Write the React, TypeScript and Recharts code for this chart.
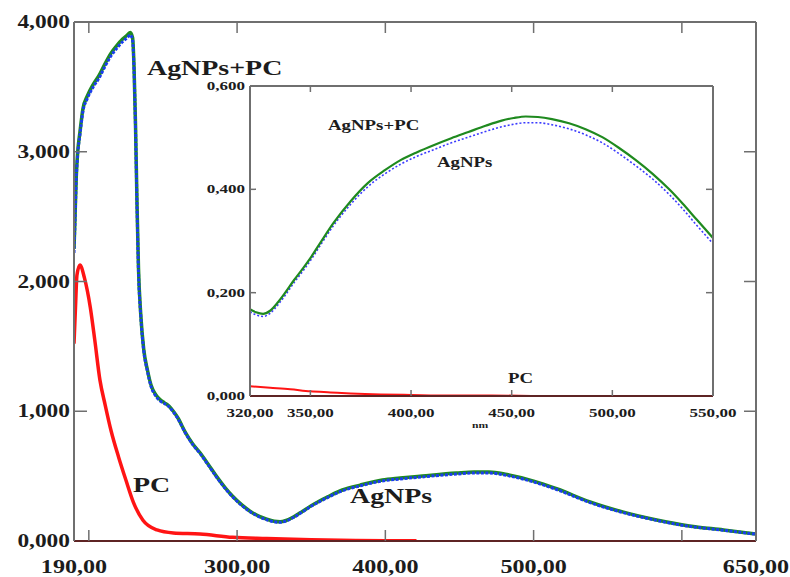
import { LineChart, Line, XAxis, YAxis } from "recharts";

// main panel (absorbance vs wavelength, nm)
const mainWl = [
  190, 190.7, 191.5, 192.5, 194, 196, 199, 203, 207, 211, 215, 219, 223, 226, 228, 229.5, 230.5, 231.5,
  232.5, 233.5, 235, 237, 239.5, 242, 245, 248, 251, 254, 257, 260, 265, 270, 275, 280, 286, 292, 297,
  303, 309, 315, 320, 325, 329, 333, 338, 344, 349, 355, 361, 371, 383, 398, 410, 425, 448, 460, 470,
  482, 500, 516, 538, 560, 583, 605, 628, 650,
];
const agnpsPcMain = [
  2.25, 2.5, 2.8, 3.0, 3.15, 3.33, 3.43, 3.52, 3.59, 3.68, 3.76, 3.82, 3.87, 3.9, 3.92, 3.88, 3.65, 3.2,
  2.6, 2.1, 1.75, 1.48, 1.32, 1.2, 1.13, 1.09, 1.065, 1.04, 1.0, 0.95, 0.84, 0.75, 0.68, 0.6, 0.5, 0.41,
  0.345, 0.28, 0.228, 0.19, 0.168, 0.152, 0.148, 0.158, 0.185, 0.228, 0.265, 0.305, 0.34, 0.393, 0.431,
  0.47, 0.485, 0.501, 0.524, 0.532, 0.532, 0.512, 0.462, 0.401, 0.301, 0.224, 0.162, 0.116, 0.085, 0.054,
];
const agnpsMain = [
  2.22, 2.47, 2.78, 2.98, 3.13, 3.31, 3.41, 3.5, 3.57, 3.66, 3.74, 3.8, 3.85, 3.88, 3.9, 3.86, 3.63, 3.18,
  2.58, 2.08, 1.74, 1.47, 1.31, 1.19, 1.12, 1.08, 1.06, 1.035, 0.995, 0.945, 0.835, 0.745, 0.675, 0.595,
  0.495, 0.405, 0.34, 0.276, 0.224, 0.186, 0.164, 0.148, 0.144, 0.154, 0.181, 0.224, 0.261, 0.3, 0.335,
  0.387, 0.425, 0.463, 0.478, 0.494, 0.516, 0.524, 0.524, 0.505, 0.455, 0.395, 0.296, 0.22, 0.159, 0.113,
  0.083, 0.052,
];
const pcWl = [
  190, 191, 192, 194, 197, 201, 204, 207.5, 211, 215, 220, 225, 230, 236.5, 246, 257, 275, 297, 320, 350,
  380, 400, 421,
];
const pcMain = [
  1.52, 1.8, 2.05, 2.127, 2.03, 1.8, 1.55, 1.24, 1.05, 0.85, 0.65, 0.47, 0.3, 0.16, 0.085, 0.062, 0.054,
  0.028, 0.019, 0.01, 0.004, 0.002, 0.001,
];

// inset (320-550 nm)
const insetWl = [
  320, 323, 326.5, 330, 334, 337.5, 342, 346.5, 350, 355, 361.5, 370, 378.5, 387, 395, 403, 411.5, 420,
  428.5, 437, 445, 451, 457, 463, 470, 478.5, 487, 495, 503, 511.5, 520, 528.5, 535, 542, 550,
];
const agnpsPcInset = [
  0.168, 0.162, 0.159, 0.165, 0.182, 0.2, 0.225, 0.248, 0.267, 0.297, 0.335, 0.377, 0.412, 0.437, 0.457,
  0.472, 0.486, 0.499, 0.511, 0.523, 0.533, 0.538, 0.541, 0.54, 0.536, 0.528, 0.516, 0.501, 0.481, 0.457,
  0.43, 0.399, 0.372, 0.341, 0.306,
];
const agnpsInset = [
  0.163, 0.157, 0.154, 0.16, 0.177, 0.195, 0.22, 0.243, 0.262, 0.292, 0.33, 0.371, 0.405, 0.43, 0.449,
  0.464, 0.477, 0.49, 0.501, 0.512, 0.521, 0.526, 0.529, 0.529, 0.525, 0.517, 0.505, 0.49, 0.47, 0.446,
  0.42, 0.389, 0.362, 0.33, 0.295,
];
const pcInsetWl = [320, 330, 340, 350, 360, 370, 385, 400, 420, 440, 460];
const pcInset = [0.019, 0.016, 0.013, 0.009, 0.007, 0.005, 0.003, 0.002, 0.001, 0.001, 0];

const mainXLabels = [190, 300, 400, 500, 650];
const mainXMarks = [200, 300, 400, 500, 600];
const mainYTicks = [0, 1, 2, 3, 4];
const insetXLabels = [320, 350, 400, 450, 500, 550];
const insetXMarks = [350, 400, 450, 500];
const insetYTicks = [0, 0.2, 0.4, 0.6];

const pts = (xs: number[], ys: number[]) => xs.map((x, i) => ({ x, y: ys[i] }));

const serif = "'Liberation Serif', 'Times New Roman', serif";
const grey = "#6f6f6f";
const maroon = "#5e2424";
const ink = "#1c1c1c";
const green = "#1f8a1f";
const blue = "#1a3cf0";
const red = "#ff1414";

const fmt = (v: number, d: number) => v.toFixed(d).replace(".", ",");

const Label = ({ x, y, text, size, sx, anchor = "start" }: any) => (
  <g transform={`translate(${x},${y}) scale(${sx},1)`}>
    <text textAnchor={anchor} fontFamily={serif} fontWeight="bold" fontSize={size} fill={ink}>
      {text}
    </text>
  </g>
);

const makeXTick =
  (labels: number[], marks: number[], len: number, gap: number, size: number, sx: number) =>
  ({ x, y, payload }: any) => {
    const v = payload.value;
    return (
      <g>
        {marks.includes(v) && <line x1={x} x2={x} y1={y} y2={y - len} stroke={grey} strokeWidth={1.5} />}
        {labels.includes(v) && <Label x={x} y={y + gap} text={fmt(v, 2)} size={size} sx={sx} anchor="middle" />}
      </g>
    );
  };

const makeTopTick = (marks: number[], len: number) => ({ x, y, payload }: any) =>
  marks.includes(payload.value) ? <line x1={x} x2={x} y1={y} y2={y + len} stroke={grey} strokeWidth={1.5} /> : <g />;

const makeYTick = (len: number, gap: number, dy: number, size: number, sx: number, max: number) =>
  ({ x, y, payload }: any) => {
    const v = payload.value;
    return (
      <g>
        {v > 0 && v < max && <line x1={x} x2={x + len} y1={y} y2={y} stroke={grey} strokeWidth={1.5} />}
        <Label x={x - gap} y={y + dy} text={fmt(v, 3)} size={size} sx={sx} anchor="end" />
      </g>
    );
  };

const makeRightTick = (len: number, max: number) => ({ x, y, payload }: any) =>
  payload.value > 0 && payload.value < max ? (
    <line x1={x} x2={x - len} y1={y} y2={y} stroke={grey} strokeWidth={1.5} />
  ) : (
    <g />
  );

export default function App() {
  return (
    <div style={{ position: "absolute", left: 0, top: 0, width: 790, height: 577, background: "#fff" }}>
      <LineChart width={790} height={577} margin={{ top: 21, right: 33, bottom: 0, left: 0 }}>
        <XAxis
          xAxisId="b"
          dataKey="x"
          type="number"
          domain={[190, 650]}
          allowDataOverflow
          ticks={[190, 200, 300, 400, 500, 600, 650]}
          interval={0}
          height={36}
          tickSize={0}
          tickMargin={0}
          tickLine={false}
          axisLine={{ stroke: maroon, strokeWidth: 2 }}
          tick={makeXTick(mainXLabels, mainXMarks, 11, 32, 19, 1.27)}
        />
        <XAxis
          xAxisId="t"
          orientation="top"
          dataKey="x"
          type="number"
          domain={[190, 650]}
          allowDataOverflow
          ticks={mainXMarks}
          interval={0}
          height={1}
          tickSize={0}
          tickMargin={0}
          tickLine={false}
          axisLine={{ stroke: grey, strokeWidth: 2 }}
          tick={makeTopTick(mainXMarks, 11)}
        />
        <YAxis
          yAxisId="l"
          type="number"
          domain={[0, 4]}
          allowDataOverflow
          ticks={mainYTicks}
          interval={0}
          width={74}
          tickSize={0}
          tickMargin={0}
          tickLine={false}
          axisLine={{ stroke: grey, strokeWidth: 2 }}
          tick={makeYTick(13, 4, 6, 18, 1.3, 4)}
        />
        <YAxis
          yAxisId="r"
          orientation="right"
          type="number"
          domain={[0, 4]}
          allowDataOverflow
          ticks={mainYTicks}
          interval={0}
          width={1}
          tickSize={0}
          tickMargin={0}
          tickLine={false}
          axisLine={{ stroke: grey, strokeWidth: 2 }}
          tick={makeRightTick(12, 4)}
        />
        <Line
          xAxisId="b"
          yAxisId="l"
          data={pts(mainWl, agnpsPcMain)}
          dataKey="y"
          type="monotone"
          stroke={green}
          strokeWidth={3.5}
          dot={false}
          isAnimationActive={false}
        />
        <Line
          xAxisId="b"
          yAxisId="l"
          data={pts(mainWl, agnpsMain)}
          dataKey="y"
          type="monotone"
          stroke={blue}
          strokeWidth={3}
          strokeDasharray="3 1.5"
          dot={false}
          isAnimationActive={false}
        />
        <Line
          xAxisId="b"
          yAxisId="l"
          data={pts(pcWl, pcMain)}
          dataKey="y"
          type="monotone"
          stroke={red}
          strokeWidth={3.5}
          dot={false}
          isAnimationActive={false}
        />
      </LineChart>

      <div style={{ position: "absolute", left: 195, top: 76 }}>
        <LineChart width={565} height={355} margin={{ top: 9, right: 46, bottom: 0, left: 0 }}>
          <XAxis
            xAxisId="b"
            dataKey="x"
            type="number"
            domain={[320, 550]}
            allowDataOverflow
            ticks={insetXLabels}
            interval={0}
            height={35}
            tickSize={0}
            tickMargin={0}
            tickLine={false}
            axisLine={{ stroke: maroon, strokeWidth: 2 }}
            tick={makeXTick(insetXLabels, insetXMarks, 6, 21, 12, 1.42)}
          />
          <XAxis
            xAxisId="t"
            orientation="top"
            dataKey="x"
            type="number"
            domain={[320, 550]}
            allowDataOverflow
            ticks={insetXMarks}
            interval={0}
            height={1}
            tickSize={0}
            tickMargin={0}
            tickLine={false}
            axisLine={{ stroke: grey, strokeWidth: 2 }}
            tick={makeTopTick(insetXMarks, 6)}
          />
          <YAxis
            yAxisId="l"
            type="number"
            domain={[0, 0.6]}
            allowDataOverflow
            ticks={insetYTicks}
            interval={0}
            width={55}
            tickSize={0}
            tickMargin={0}
            tickLine={false}
            axisLine={{ stroke: grey, strokeWidth: 2 }}
            tick={makeYTick(6, 5, 4, 12, 1.42, 0.6)}
          />
          <YAxis
            yAxisId="r"
            orientation="right"
            type="number"
            domain={[0, 0.6]}
            allowDataOverflow
            ticks={insetYTicks}
            interval={0}
            width={1}
            tickSize={0}
            tickMargin={0}
            tickLine={false}
            axisLine={{ stroke: grey, strokeWidth: 2 }}
            tick={makeRightTick(7, 0.6)}
          />
          <Line
            xAxisId="b"
            yAxisId="l"
            data={pts(insetWl, agnpsInset)}
            dataKey="y"
            type="monotone"
            stroke="#3a3aff"
            strokeWidth={1.6}
            strokeDasharray="2 2"
            dot={false}
            isAnimationActive={false}
          />
          <Line
            xAxisId="b"
            yAxisId="l"
            data={pts(insetWl, agnpsPcInset)}
            dataKey="y"
            type="monotone"
            stroke={green}
            strokeWidth={2.2}
            dot={false}
            isAnimationActive={false}
          />
          <Line
            xAxisId="b"
            yAxisId="l"
            data={pts(pcInsetWl, pcInset)}
            dataKey="y"
            type="monotone"
            stroke={red}
            strokeWidth={2}
            dot={false}
            isAnimationActive={false}
          />
        </LineChart>
      </div>

      <svg width={790} height={577} style={{ position: "absolute", left: 0, top: 0, pointerEvents: "none" }}>
        <Label x={147} y={75} text="AgNPs+PC" size={22} sx={1.27} />
        <Label x={133} y={492} text="PC" size={22} sx={1.27} />
        <Label x={350} y={503} text="AgNPs" size={22} sx={1.27} />
        <Label x={328} y={130} text="AgNPs+PC" size={14.5} sx={1.3} />
        <Label x={437} y={167} text="AgNPs" size={14.5} sx={1.3} />
        <Label x={508} y={383} text="PC" size={14.5} sx={1.3} />
        <Label x={480} y={428} text="nm" size={9} sx={1.3} anchor="middle" />
      </svg>
    </div>
  );
}
